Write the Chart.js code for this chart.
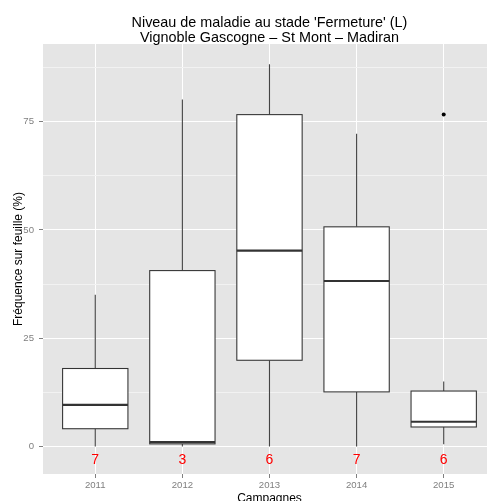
<!DOCTYPE html>
<html><head><meta charset="utf-8">
<script src="https://cdn.jsdelivr.net/npm/chart.js@4"></script>
<style>html,body{margin:0;padding:0;background:#fff;overflow:hidden}canvas{display:block}</style>
</head><body>
<canvas id="c" width="487" height="501"></canvas>
<script>
const categories = ['2011', '2012', '2013', '2014', '2015'];
const whiskerLow = [0, 0, 0, 0, 0.5];
const q1 = [4.1, 0.6, 19.9, 12.6, 4.5];
const median = [9.6, 1.0, 45.2, 38.2, 5.7];
const q3 = [18.0, 40.6, 76.6, 50.7, 12.8];
const whiskerHigh = [35.0, 80.1, 88.2, 72.2, 15.0];
const counts = [7, 3, 6, 7, 6];
const outlierYear = ['2015'];
const outlierValue = [76.6];
const yMajorTicks = [0, 25, 50, 75];
const yMinorTicks = [12.5, 37.5, 62.5, 87.5];
const countLabelValue = -3.1;
const titleLines = ["Niveau de maladie au stade 'Fermeture' (L)", "Vignoble Gascogne \u2013 St Mont \u2013 Madiran"];
const xTitle = 'Campagnes';
const yTitle = 'Fr\u00e9quence sur feuille (%)';

const FONT = '"Liberation Sans", Arial, sans-serif';

const boxPlugin = {
  id: 'boxes',
  beforeDraw(chart) {
    const {ctx, chartArea: a} = chart;
    ctx.save();
    ctx.fillStyle = '#E5E5E5';
    ctx.fillRect(a.left, a.top, a.right - a.left, a.bottom - a.top);
    ctx.restore();
  },
  beforeDatasetsDraw(chart) {
    const {ctx} = chart;
    const xs = chart.scales.x, ys = chart.scales.y;
    const half = (xs.getPixelForValue(1.375) - xs.getPixelForValue(1));
    ctx.save();
    categories.forEach((c, i) => {
      const cx = xs.getPixelForValue(i + 1);
      // whiskers
      ctx.strokeStyle = '#444444';
      ctx.lineWidth = 1.1;
      ctx.beginPath();
      ctx.moveTo(cx, ys.getPixelForValue(q3[i]));
      ctx.lineTo(cx, ys.getPixelForValue(whiskerHigh[i]));
      ctx.moveTo(cx, ys.getPixelForValue(q1[i]));
      ctx.lineTo(cx, ys.getPixelForValue(whiskerLow[i]));
      ctx.stroke();
      // box
      ctx.strokeStyle = '#333333';
      ctx.lineWidth = 1.07;
      const yTop = ys.getPixelForValue(q3[i]);
      const yBot = ys.getPixelForValue(q1[i]);
      ctx.fillStyle = '#FFFFFF';
      ctx.fillRect(cx - half, yTop, 2 * half, yBot - yTop);
      ctx.strokeRect(cx - half, yTop, 2 * half, yBot - yTop);
      // median
      ctx.lineWidth = 2.13;
      const ym = ys.getPixelForValue(median[i]);
      ctx.beginPath();
      ctx.moveTo(cx - half, ym);
      ctx.lineTo(cx + half, ym);
      ctx.stroke();
    });
    // counts
    ctx.fillStyle = '#FF0000';
    ctx.font = '14px ' + FONT;
    ctx.textAlign = 'center';
    ctx.textBaseline = 'middle';
    categories.forEach((c, i) => {
      ctx.fillText(String(counts[i]), xs.getPixelForValue(i + 1), ys.getPixelForValue(countLabelValue));
    });
    ctx.restore();
  },
  afterDraw(chart) {
    const {ctx} = chart;
    const xs = chart.scales.x;
    const cx = (xs.getPixelForValue(0.4) + xs.getPixelForValue(5.6)) / 2;
    ctx.save();
    ctx.fillStyle = '#000000';
    ctx.textAlign = 'center';
    ctx.textBaseline = 'alphabetic';
    ctx.font = '14.4px ' + FONT;
    ctx.fillText(titleLines[0], cx, 27);
    ctx.fillText(titleLines[1], cx, 42);
    ctx.font = '12px ' + FONT;
    ctx.fillText(xTitle, cx, 502);
    ctx.restore();
  }
};

new Chart(document.getElementById('c'), {
  type: 'scatter',
  data: {
    datasets: [{
      data: outlierYear.map((y, i) => ({x: categories.indexOf(y) + 1, y: outlierValue[i]})),
      pointRadius: 2,
      pointBackgroundColor: '#000000',
      pointBorderWidth: 0,
      pointBorderColor: '#000000'
    }]
  },
  options: {
    responsive: false,
    animation: false,
    layout: {autoPadding: false, padding: {top: 44, left: 0, right: 0, bottom: 0}},
    plugins: {legend: {display: false}, tooltip: {enabled: false}, title: {display: false}},
    scales: {
      x: {
        type: 'linear',
        min: 0.4,
        max: 5.497,
        afterBuildTicks: s => { s.ticks = categories.map((c, i) => ({value: i + 1})); },
        afterFit: s => { s.height = 27; s.paddingLeft = 0; s.paddingRight = 0; },
        ticks: {
          callback: v => categories[v - 1] || '',
          color: '#7F7F7F',
          font: {family: FONT, size: 9.6},
          padding: 2,
          maxRotation: 0,
          autoSkip: false
        },
        grid: {color: '#FFFFFF', lineWidth: 1, tickLength: 4, tickColor: '#7F7F7F', drawTicks: true},
        border: {display: false}
      },
      y: {
        type: 'linear',
        min: -6.35,
        max: 92.9,
        afterBuildTicks: s => { s.ticks = yMajorTicks.concat(yMinorTicks).sort((a, b) => a - b).map(v => ({value: v})); },
        afterFit: s => { s.width = 43; s.paddingTop = 0; s.paddingBottom = 0; },
        ticks: {
          callback: v => yMajorTicks.includes(v) ? String(v) : '',
          color: '#7F7F7F',
          font: {family: FONT, size: 9.6},
          padding: 5
        },
        grid: {
          color: c => yMinorTicks.includes(c.tick.value) ? '#F2F2F2' : '#FFFFFF',
          lineWidth: 1,
          tickLength: 4,
          tickColor: c => yMinorTicks.includes(c.tick.value) ? 'rgba(0,0,0,0)' : '#7F7F7F',
          drawTicks: true
        },
        border: {display: false},
        title: {display: true, text: yTitle, color: '#000000', font: {family: FONT, size: 12}, padding: {top: 11, bottom: 0}}
      }
    }
  },
  plugins: [boxPlugin]
});
</script>
</body></html>
